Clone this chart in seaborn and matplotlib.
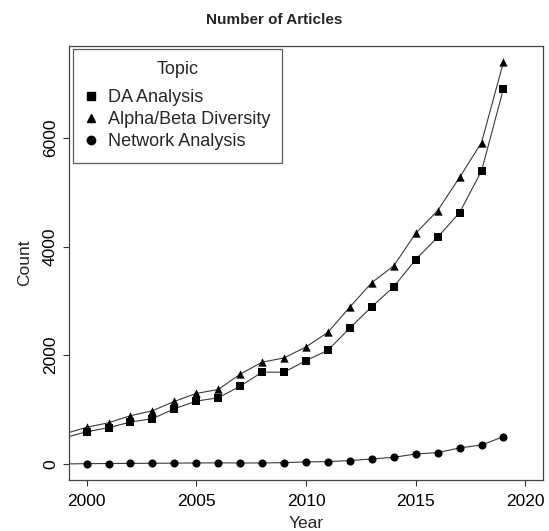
import matplotlib.pyplot as plt
import seaborn as sns
import numpy as np
import pandas as pd
from matplotlib.lines import Line2D

sns.set_theme(style="ticks")
plt.rcParams['font.family'] = ['Liberation Sans', 'DejaVu Sans']

# values; 1999 is only used for the line that runs off the left edge
years = list(range(1999, 2020))
da_analysis = [482, 593, 667, 771, 832, 1015, 1156, 1217, 1431, 1688, 1688, 1902,
               2092, 2502, 2893, 3260, 3761, 4171, 4624, 5390, 6905]
alpha_beta = [555, 673, 758, 887, 979, 1150, 1297, 1370, 1651, 1872, 1951, 2153,
              2422, 2887, 3336, 3645, 4244, 4660, 5272, 5914, 7394]
network = [0, 5, 8, 10, 12, 15, 18, 20, 18, 18, 24, 37,
           43, 61, 92, 122, 183, 208, 294, 349, 502]
topics = ['DA Analysis', 'Alpha/Beta Diversity', 'Network Analysis']

df = pd.DataFrame({
    'Year': years * 3,
    'Count': da_analysis + alpha_beta + network,
    'Topic': np.repeat(topics, len(years)),
})
pts = df[df['Year'] >= 2000]

marker_map = {'DA Analysis': 's', 'Alpha/Beta Diversity': '^', 'Network Analysis': 'o'}
size_map = {'DA Analysis': 30, 'Alpha/Beta Diversity': 36, 'Network Analysis': 34}

fig = plt.figure(figsize=(5.49, 5.31), dpi=100)
ax = fig.add_axes([0.1257, 0.096, 0.8633, 0.8174])

for t in topics:
    sub = df[df['Topic'] == t]
    sns.lineplot(data=sub, x='Year', y='Count', color='#3a3a3a', linewidth=0.8,
                 ax=ax, legend=False)
    sp = pts[pts['Topic'] == t]
    sns.scatterplot(data=sp, x='Year', y='Count', marker=marker_map[t], s=size_map[t],
                    color='black', edgecolor='black', linewidth=0, ax=ax,
                    legend=False, zorder=3)

ax.set_xlim(1999.2, 2020.8)
ax.set_ylim(-296, 7690)
ax.set_xticks([2000, 2005, 2010, 2015, 2020])
ax.set_yticks([0, 2000, 4000, 6000])
ax.tick_params(axis='both', direction='out', length=4.5, width=0.8, colors='#333333',
               labelcolor='black', labelsize=12.5)
ax.tick_params(axis='x', pad=5.5)
ax.tick_params(axis='y', pad=3.5)
for lab in ax.get_yticklabels():
    lab.set_rotation(90)
    lab.set_va('center')
for s in ax.spines.values():
    s.set_visible(True)
    s.set_color('#444444')
    s.set_linewidth(0.9)

ax.set_xlabel('Year', fontsize=12.5, va='center')
ax.set_ylabel('Count', fontsize=12.5, va='center')
ax.xaxis.set_label_coords(0.5, -0.100)
ax.yaxis.set_label_coords(-0.093, 0.5)
fig.text(0.5, 0.962, 'Number of Articles', fontsize=11, fontweight='bold',
         ha='center', va='center')

handles = [Line2D([], [], linestyle='none', marker=marker_map[t], color='black',
                  markersize=6) for t in topics]
leg = ax.legend(handles, topics, title='Topic', loc='upper left',
                bbox_to_anchor=(0.008, 0.994), fontsize=13, title_fontsize=13,
                frameon=True, fancybox=False, edgecolor='#333333',
                handlelength=0.7, handletextpad=0.55, labelspacing=0.29,
                borderpad=0.68, borderaxespad=0)
leg._legend_box.sep = 8.0
leg.get_frame().set_linewidth(0.9)

fig.savefig('out.png', dpi=100)
